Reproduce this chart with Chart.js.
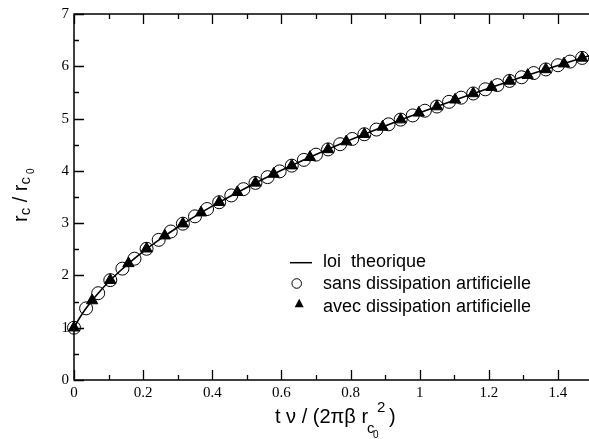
<!DOCTYPE html>
<html>
<head>
<meta charset="utf-8">
<script src="https://cdn.jsdelivr.net/npm/chart.js@4.4.1/dist/chart.umd.min.js"></script>
<style>
  html, body { margin: 0; padding: 0; overflow: hidden; background: #fff; }
  #box { width: 600px; height: 439px; }
</style>
</head>
<body>
<div id="box"><canvas id="rayon"></canvas></div>
<script>
// loi theorique
const tTheorie = [0, 0.005, 0.01, 0.0175, 0.025, 0.035, 0.05, 0.07, 0.1, 0.13, 0.16, 0.2, 0.25, 0.3,
  0.35, 0.4, 0.5, 0.6, 0.7, 0.8, 0.9, 1.0, 1.1, 1.2, 1.3, 1.4, 1.5];
const rTheorie = [1.000, 1.061, 1.119, 1.200, 1.276, 1.371, 1.502, 1.661, 1.874, 2.066, 2.241, 2.455,
  2.699, 2.922, 3.130, 3.325, 3.683, 4.010, 4.312, 4.594, 4.860, 5.112, 5.352, 5.582, 5.803, 6.016, 6.221];

// simulation sans dissipation artificielle
const tSans = [0, 0.035, 0.07, 0.105, 0.14, 0.175, 0.21, 0.245, 0.28, 0.315, 0.35, 0.385, 0.42, 0.455,
  0.49, 0.525, 0.56, 0.595, 0.63, 0.665, 0.7, 0.735, 0.77, 0.805, 0.84, 0.875, 0.91, 0.945, 0.98,
  1.015, 1.05, 1.085, 1.12, 1.155, 1.19, 1.225, 1.26, 1.295, 1.33, 1.365, 1.4, 1.435, 1.47];
const rSans = [1.00, 1.37, 1.66, 1.91, 2.13, 2.32, 2.51, 2.68, 2.84, 2.99, 3.13, 3.27, 3.40, 3.53,
  3.65, 3.77, 3.88, 3.99, 4.10, 4.21, 4.31, 4.41, 4.51, 4.61, 4.70, 4.79, 4.89, 4.98, 5.06,
  5.15, 5.23, 5.32, 5.40, 5.48, 5.56, 5.64, 5.72, 5.79, 5.87, 5.94, 6.02, 6.09, 6.16];

// simulation avec dissipation artificielle
const tAvec = [0, 0.0525, 0.105, 0.1575, 0.21, 0.2625, 0.315, 0.3675, 0.42, 0.4725, 0.525, 0.5775,
  0.63, 0.6825, 0.735, 0.7875, 0.84, 0.8925, 0.945, 0.9975, 1.05, 1.1025, 1.155, 1.2075, 1.26,
  1.3125, 1.365, 1.4175, 1.47];
const rAvec = [1.00, 1.52, 1.91, 2.23, 2.51, 2.76, 2.99, 3.20, 3.40, 3.59, 3.77, 3.94, 4.10, 4.26,
  4.41, 4.56, 4.70, 4.84, 4.98, 5.11, 5.23, 5.36, 5.48, 5.60, 5.72, 5.83, 5.94, 6.05, 6.16];

const legendLabels = ['loi  theorique', 'sans dissipation artificielle', 'avec dissipation artificielle'];
const xMajor = [0, 0.2, 0.4, 0.6, 0.8, 1, 1.2, 1.4];
const yMajor = [0, 1, 2, 3, 4, 5, 6, 7];

const pts = (xs, ys) => xs.map((x, i) => ({ x: x, y: ys[i] }));
const isIn = (list, v) => list.some(m => Math.abs(m - v) < 1e-6);

const SANS = '"Liberation Sans", Arial, sans-serif';
const SERIF = '"Liberation Serif", "Times New Roman", serif';

// writes a run of text pieces (size, vertical shift) one after the other
function writeRun(ctx, pieces, x0, base) {
  let x = x0;
  pieces.forEach(p => {
    ctx.font = p.s + 'px ' + SANS;
    if (p.x !== undefined) x = x0 + p.x;
    ctx.fillText(p.t, x, base + (p.dy || 0));
    x += ctx.measureText(p.t).width;
  });
}

// frame and inward tick marks, under the markers
const frame = {
  id: 'frame',
  beforeDatasetsDraw(chart) {
    const { ctx, chartArea: a, scales: { x, y } } = chart;
    ctx.save();
    ctx.strokeStyle = '#000';
    ctx.lineWidth = 1.5;
    ctx.strokeRect(a.left, a.top, a.right - a.left, a.bottom - a.top);
    ctx.lineWidth = 1.3;
    ctx.beginPath();
    x.ticks.forEach(t => {
      const px = Math.round(x.getPixelForValue(t.value)) + 0.5;
      const len = isIn(xMajor, t.value) ? 10 : 5;
      ctx.moveTo(px, a.bottom); ctx.lineTo(px, a.bottom - len);
      ctx.moveTo(px, a.top); ctx.lineTo(px, a.top + len);
    });
    y.ticks.forEach(t => {
      const py = Math.round(y.getPixelForValue(t.value)) + 0.5;
      const len = isIn(yMajor, t.value) ? 10 : 5;
      ctx.moveTo(a.left, py); ctx.lineTo(a.left + len, py);
    });
    ctx.stroke();
    ctx.restore();
  },
  afterDraw(chart) {
    const ctx = chart.ctx;
    ctx.save();
    ctx.fillStyle = '#000';
    ctx.textAlign = 'left';
    ctx.textBaseline = 'alphabetic';

    // x axis title
    writeRun(ctx, [
      { t: 't \u03bd / (2\u03c0\u03b2 r', s: 20 },
      { t: 'c', s: 15, dy: 10, x: 92 },
      { t: '0', s: 10, dy: 15, x: 98 },
      { t: '2', s: 15, dy: -11, x: 102 },
      { t: ')', s: 20, x: 114 }
    ], 275, 423);

    // y axis title, rotated
    ctx.save();
    ctx.translate(27, 222);
    ctx.rotate(-Math.PI / 2);
    writeRun(ctx, [
      { t: 'r', s: 20 },
      { t: 'c', s: 15, dy: 3 },
      { t: ' / r', s: 20 },
      { t: 'c', s: 15, dy: 3 },
      { t: '0', s: 10, dy: 7, x: 48 }
    ], 0, 0);
    ctx.restore();

    // legend
    const lx = 323, rows = [267.3, 289.3, 311.5];
    ctx.font = '18px ' + SANS;
    legendLabels.forEach((lab, i) => ctx.fillText(lab, lx, rows[i]));
    ctx.strokeStyle = '#000';
    ctx.lineWidth = 1.5;
    ctx.beginPath();
    ctx.moveTo(290, 262.7); ctx.lineTo(312, 262.7);
    ctx.stroke();
    ctx.lineWidth = 1;
    ctx.beginPath();
    ctx.arc(296.7, 283.5, 4.8, 0, Math.PI * 2);
    ctx.stroke();
    ctx.beginPath();
    ctx.moveTo(299.2, 298.8); ctx.lineTo(303.7, 307.2); ctx.lineTo(294.7, 307.2);
    ctx.closePath();
    ctx.fill();
    ctx.restore();
  }
};

new Chart(document.getElementById('rayon'), {
  type: 'scatter',
  data: {
    datasets: [
      {
        label: legendLabels[2],
        data: pts(tAvec, rAvec),
        pointStyle: 'triangle',
        pointRadius: 6.5,
        pointBackgroundColor: '#000',
        pointBorderColor: '#000',
        pointBorderWidth: 1,
        showLine: false,
        clip: false,
        order: 0
      },
      {
        label: legendLabels[1],
        data: pts(tSans, rSans),
        pointStyle: 'circle',
        pointRadius: 6.5,
        pointBackgroundColor: 'rgba(0,0,0,0)',
        pointBorderColor: '#000',
        pointBorderWidth: 1,
        showLine: false,
        clip: false,
        order: 1
      },
      {
        label: legendLabels[0],
        data: pts(tTheorie, rTheorie),
        showLine: true,
        pointRadius: 0,
        borderColor: '#000',
        borderWidth: 1.6,
        cubicInterpolationMode: 'monotone',
        clip: false,
        order: 2
      }
    ]
  },
  options: {
    responsive: true,
    maintainAspectRatio: false,
    animation: false,
    events: [],
    layout: { padding: { top: 12, right: 2, left: 0, bottom: 0 } },
    scales: {
      x: {
        type: 'linear',
        min: 0,
        max: 1.5,
        afterFit: s => { s.height = 59; },
        grid: { display: false, drawTicks: false },
        border: { display: false },
        ticks: {
          stepSize: 0.1,
          autoSkip: false,
          maxRotation: 0,
          padding: 4,
          color: '#000',
          font: { family: SERIF, size: 15 },
          callback: v => isIn(xMajor, v) ? String(Number(v.toFixed(1))) : ''
        }
      },
      y: {
        type: 'linear',
        min: 0,
        max: 7,
        afterFit: s => { s.width = 74; },
        grid: { display: false, drawTicks: false },
        border: { display: false },
        ticks: {
          stepSize: 0.5,
          autoSkip: false,
          padding: 5,
          color: '#000',
          font: { family: SERIF, size: 15 },
          callback: v => isIn(yMajor, v) ? String(Math.round(v)) : ''
        }
      }
    },
    plugins: {
      legend: { display: false },
      tooltip: { enabled: false }
    }
  },
  plugins: [frame]
});
</script>
</body>
</html>
